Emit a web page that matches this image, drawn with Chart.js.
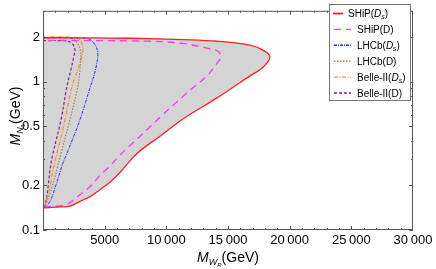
<!DOCTYPE html>
<html>
<head>
<meta charset="utf-8">
<script src="https://cdn.jsdelivr.net/npm/chart.js@4.4.0/dist/chart.umd.min.js"></script>
<style>
    html, body { margin: 0; padding: 0; background: #fff; }
</style>
</head>
<body>
<canvas id="chart" width="436" height="269"></canvas>
<script>
(function () {
    "use strict";

    // Axis ticks
    const xTickValues = [5000, 10000, 15000, 20000, 25000, 30000];
    const xTickLabels = ["5000", "10\u2009000", "15\u2009000", "20\u2009000", "25\u2009000", "30\u2009000"];
    const yTickValues = [0.1, 0.2, 0.5, 1, 2];
    const yTickLabels = ["0.1", "0.2", "0.5", "1", "2"];
    const yMinorTicks = [0.3, 0.4, 0.6, 0.7, 0.8, 0.9, 3];

    // Series names (legend)
    const seriesNames = ["SHiP(Ds)", "SHiP(D)", "LHCb(Ds)", "LHCb(D)", "Belle-II(Ds)", "Belle-II(D)"];

    // Contours: M_WR (GeV) vs M_N1 (GeV)
    const shipDsX = [40, 1370, 2180, 2990, 3810, 4620, 5430, 6240, 7620, 9490, 11350, 14110, 16790, 17840, 18400, 17840, 16790, 14110, 11350, 8680, 5430, 3080, 40];
    const shipDsY = [0.141, 0.143, 0.145, 0.156, 0.168, 0.187, 0.21, 0.244, 0.328, 0.429, 0.56, 0.777, 1.093, 1.25, 1.47, 1.63, 1.76, 1.87, 1.92, 1.95, 1.965, 1.97, 1.97];

    const shipDX = [80, 1210, 1940, 2990, 3960, 4610, 5430, 6080, 7300, 8430, 9650, 10860, 12080, 13300, 14110, 14430, 14190, 13300, 11350, 8680, 3240, 80];
    const shipDY = [0.143, 0.145, 0.149, 0.173, 0.201, 0.233, 0.269, 0.31, 0.387, 0.474, 0.592, 0.73, 0.899, 1.093, 1.33, 1.47, 1.6, 1.68, 1.81, 1.87, 1.89, 1.895];

    const lhcbDsX = [80, 405, 650, 1050, 1620, 1940, 2990, 3800, 4210, 4450, 4290, 3800, 2990, 80];
    const lhcbDsY = [0.141, 0.149, 0.161, 0.201, 0.283, 0.328, 0.552, 0.901, 1.16, 1.52, 1.73, 1.92, 1.97, 1.97];

    const lhcbDX = [80, 320, 730, 1130, 1460, 2180, 2830, 2990, 3070, 2990, 2670, 2180, 80];
    const lhcbDY = [0.141, 0.156, 0.195, 0.255, 0.328, 0.552, 0.928, 1.195, 1.45, 1.68, 1.87, 1.97, 1.98];

    const belleDsX = [80, 240, 570, 810, 1130, 1780, 2350, 2750, 3070, 3230, 3070, 2590, 80];
    const belleDsY = [0.141, 0.156, 0.195, 0.255, 0.328, 0.552, 0.928, 1.16, 1.41, 1.63, 1.87, 1.98, 2.0];

    const belleDX = [80, 240, 410, 570, 810, 1460, 1940, 2270, 2510, 2590, 2430, 2020, 1370, 80];
    const belleDY = [0.141, 0.156, 0.195, 0.255, 0.328, 0.552, 0.928, 1.21, 1.49, 1.63, 1.78, 1.87, 1.89, 1.89];

    const FONT = "'Liberation Sans', Arial, sans-serif";

    const toPoints = (xs, ys) => xs.map((x, i) => ({ x: x, y: ys[i] }));

    const styles = [
        { color: "rgb(255,30,30)", dash: [], width: 1.3 },
        { color: "rgb(255,50,255)", dash: [7, 5], width: 1.3 },
        { color: "rgb(40,40,255)", dash: [3, 1, 1, 1], width: 1 },
        { color: "rgb(170,125,80)", dash: [1.5, 1.5], width: 1.2 },
        { color: "rgb(255,140,30)", dash: [4, 1.5, 1, 1.5], width: 1.2 },
        { color: "rgb(140,30,140)", dash: [3, 2], width: 1.2 }
    ];

    const series = [
        [shipDsX, shipDsY], [shipDX, shipDY], [lhcbDsX, lhcbDsY],
        [lhcbDX, lhcbDY], [belleDsX, belleDsY], [belleDX, belleDY]
    ];

    const datasets = series.map((s, i) => ({
        label: seriesNames[i],
        data: toPoints(s[0], s[1]),
        showLine: true,
        borderColor: styles[i].color,
        borderDash: styles[i].dash,
        borderWidth: styles[i].width,
        pointRadius: 0,
        tension: 0.35,
        fill: i === 0 ? "shape" : false,
        backgroundColor: i === 0 ? "#d4d4d4" : "transparent"
    }));

    // draw mixed text runs: [text, font, dy]
    function drawRuns(ctx, runs, x, y, align) {
        let total = 0;
        runs.forEach((r) => { ctx.font = r[1]; total += ctx.measureText(r[0]).width; });
        let cx = align === "center" ? x - total / 2 : x;
        ctx.textAlign = "left";
        ctx.textBaseline = "alphabetic";
        runs.forEach((r) => {
            ctx.font = r[1];
            ctx.fillText(r[0], cx, y + (r[2] || 0));
            cx += ctx.measureText(r[0]).width;
        });
    }

    const decorPlugin = {
        id: "decor",
        afterDraw(chart) {
            const ctx = chart.ctx;
            const a = chart.chartArea;
            const xs = chart.scales.x;
            const ys = chart.scales.y;

            ctx.save();
            // Frame
            ctx.strokeStyle = "#555";
            ctx.lineWidth = 1;
            ctx.strokeRect(a.left + 0.5, a.top + 0.5, a.right - a.left - 1, a.bottom - a.top - 1);

            // Ticks
            ctx.beginPath();
            for (let v = 1000; v < 30000; v += 1000) {
                const px = Math.round(xs.getPixelForValue(v)) + 0.5;
                const len = v % 5000 === 0 ? 4 : 2;
                ctx.moveTo(px, a.bottom); ctx.lineTo(px, a.bottom - len);
                ctx.moveTo(px, a.top); ctx.lineTo(px, a.top + len);
            }
            yTickValues.concat(yMinorTicks).forEach((v) => {
                const py = Math.round(ys.getPixelForValue(v)) + 0.5;
                const len = yTickValues.includes(v) ? 4 : 2;
                ctx.moveTo(a.left, py); ctx.lineTo(a.left + len, py);
                ctx.moveTo(a.right, py); ctx.lineTo(a.right - len, py);
            });
            ctx.stroke();

            // Axis titles
            ctx.fillStyle = "#000";
            drawRuns(ctx, [
                ["M", "italic 14px " + FONT, 0],
                ["W", "italic 9px " + FONT, 3],
                ["R", "italic 6px " + FONT, 5],
                ["(GeV)", "14px " + FONT, 0]
            ], 228, 262, "center");

            ctx.save();
            ctx.translate(20, 116);
            ctx.rotate(-Math.PI / 2);
            drawRuns(ctx, [
                ["M", "italic 14px " + FONT, 0],
                ["N", "italic 9px " + FONT, 3],
                ["1", "6px " + FONT, 5],
                ["(GeV)", "14px " + FONT, 0]
            ], 0, 0, "center");
            ctx.restore();

            // Legend
            const lx = 329, ly = 4, lw = 81, lh = 96;
            ctx.fillStyle = "#fff";
            ctx.fillRect(lx, ly, lw, lh);
            ctx.strokeStyle = "#777";
            ctx.strokeRect(lx + 0.5, ly + 0.5, lw, lh);

            const legendRuns = [
                [["SHiP(", "10px " + FONT], ["D", "italic 10px " + FONT], ["s", "italic 7px " + FONT, 2], [")", "10px " + FONT]],
                [["SHiP(D)", "10px " + FONT]],
                [["LHCb(", "10px " + FONT], ["D", "italic 10px " + FONT], ["s", "italic 7px " + FONT, 2], [")", "10px " + FONT]],
                [["LHCb(D)", "10px " + FONT]],
                [["Belle-II(", "10px " + FONT], ["D", "italic 10px " + FONT], ["s", "italic 7px " + FONT, 2], [")", "10px " + FONT]],
                [["Belle-II(D)", "10px " + FONT]]
            ];
            legendRuns.forEach((runs, i) => {
                const y = ly + 9.5 + i * 15.9;
                const x0 = i === 0 ? 333 : 334;
                const x1 = i === 0 ? 343 : 351;
                ctx.beginPath();
                ctx.strokeStyle = styles[i].color;
                ctx.lineWidth = i === 0 ? 1.8 : 1.4;
                ctx.setLineDash(styles[i].dash);
                ctx.moveTo(x0, y); ctx.lineTo(x1, y);
                ctx.stroke();
                ctx.setLineDash([]);
                ctx.fillStyle = "#000";
                drawRuns(ctx, runs, i === 0 ? 348 : 357, y + 3.5, "left");
            });
            ctx.restore();
        }
    };

    const ctx = document.getElementById("chart").getContext("2d");

    new Chart(ctx, {
        type: "scatter",
        data: { datasets: datasets },
        options: {
            responsive: false,
            animation: false,
            devicePixelRatio: 1,
            layout: { padding: { top: 1, right: 23, left: 0, bottom: 0 } },
            plugins: {
                legend: { display: false },
                tooltip: { enabled: false },
                filler: { drawTime: "beforeDatasetsDraw" }
            },
            scales: {
                x: {
                    type: "linear",
                    min: 0,
                    max: 30000,
                    grid: { display: false, drawTicks: false },
                    border: { display: false },
                    afterBuildTicks: (scale) => {
                        scale.ticks = xTickValues.map((v) => ({ value: v }));
                    },
                    afterFit: (scale) => { scale.height = 39; },
                    ticks: {
                        color: "#000",
                        font: { family: FONT, size: 13 },
                        padding: 3,
                        maxRotation: 0,
                        autoSkip: false,
                        callback: (v) => {
                            const i = xTickValues.indexOf(v);
                            return i >= 0 ? xTickLabels[i] : "";
                        }
                    }
                },
                y: {
                    type: "logarithmic",
                    min: 0.1,
                    max: 3,
                    grid: { display: false, drawTicks: false },
                    border: { display: false },
                    afterBuildTicks: (scale) => {
                        scale.ticks = yTickValues.map((v) => ({ value: v }));
                    },
                    afterFit: (scale) => { scale.width = 43; },
                    ticks: {
                        color: "#000",
                        font: { family: FONT, size: 13 },
                        padding: 3,
                        autoSkip: false,
                        callback: (v) => {
                            const i = yTickValues.indexOf(v);
                            return i >= 0 ? yTickLabels[i] : "";
                        }
                    }
                }
            }
        },
        plugins: [decorPlugin]
    });
})();
</script>
</body>
</html>
